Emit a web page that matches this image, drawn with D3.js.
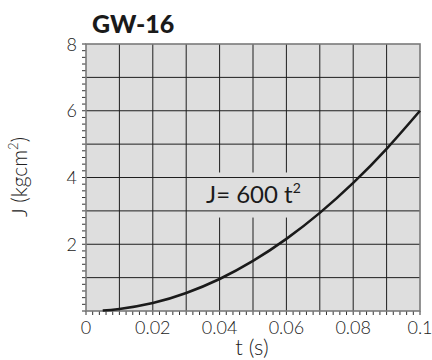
<!DOCTYPE html>
<html>
<head>
<meta charset="utf-8">
<script src="https://cdn.jsdelivr.net/npm/d3@7"></script>
<style>
  html, body { margin: 0; padding: 0; background: #ffffff; }
  svg { display: block; }
  text { font-family: Lato, "Open Sans", sans-serif; }
</style>
</head>
<body>
<script>
// Inertia curve J = 600 t^2 sampled at the marked times
const timeValues = [0.005, 0.01, 0.02, 0.03, 0.04, 0.05, 0.06, 0.07, 0.08, 0.09, 0.1];
const inertiaValues = [0.015, 0.06, 0.24, 0.54, 0.96, 1.5, 2.16, 2.94, 3.84, 4.86, 6.0];

const xTickLabels = [0, 0.02, 0.04, 0.06, 0.08, 0.1];
const yTickLabels = [2, 4, 6, 8];
const xGridValues = [0.01, 0.02, 0.03, 0.04, 0.05, 0.06, 0.07, 0.08, 0.09];
const yGridValues = [1, 2, 3, 4, 5, 6, 7];

const titleText = "GW-16";
const xTitle = "t (s)";
const yTitle = "J (kgcm";
const formulaText = "J= 600 t";

const W = 432, H = 360;
const plotLeft = 86, plotRight = 420, plotTop = 44, plotBottom = 311;

const svg = d3.select("body").append("svg")
  .attr("width", W).attr("height", H);

const x = d3.scaleLinear().domain([0, 0.1]).range([plotLeft, plotRight]);
const y = d3.scaleLinear().domain([0, 8]).range([plotBottom, plotTop]);

// plot background
svg.append("rect")
  .attr("x", plotLeft).attr("y", plotTop)
  .attr("width", plotRight - plotLeft).attr("height", plotBottom - plotTop)
  .attr("fill", "#dedede");

// vertical grid lines
svg.append("g").selectAll("line").data(xGridValues).join("line")
  .attr("x1", d => x(d)).attr("x2", d => x(d))
  .attr("y1", plotTop).attr("y2", plotBottom)
  .attr("stroke", "#1e1e1e").attr("stroke-width", 1);

// backing box behind the formula, hides the vertical grid
svg.append("rect")
  .attr("x", x(0.0325)).attr("y", y(4.15))
  .attr("width", x(0.0665) - x(0.0325)).attr("height", y(2.8) - y(4.15))
  .attr("fill", "#dedede");

// horizontal grid lines
svg.append("g").selectAll("line").data(yGridValues).join("line")
  .attr("x1", plotLeft).attr("x2", plotRight)
  .attr("y1", d => y(d)).attr("y2", d => y(d))
  .attr("stroke", "#1e1e1e").attr("stroke-width", 1);

// minor ticks on the axes
const xMinor = d3.range(0, 51).map(i => i * 0.002);
const yMinor = d3.range(0, 41).map(i => i * 0.2);

svg.append("g").selectAll("line").data(xMinor).join("line")
  .attr("x1", d => x(d)).attr("x2", d => x(d))
  .attr("y1", plotBottom).attr("y2", plotBottom + 4)
  .attr("stroke", "#333").attr("stroke-width", 1);

svg.append("g").selectAll("line").data(yMinor).join("line")
  .attr("x1", plotLeft - 4).attr("x2", plotLeft)
  .attr("y1", d => y(d)).attr("y2", d => y(d))
  .attr("stroke", "#333").attr("stroke-width", 1);

// frame
svg.append("rect")
  .attr("x", plotLeft).attr("y", plotTop)
  .attr("width", plotRight - plotLeft).attr("height", plotBottom - plotTop)
  .attr("fill", "none").attr("stroke", "#7a7a7a").attr("stroke-width", 1.6);

// curve
const line = d3.line()
  .x((d, i) => x(timeValues[i]))
  .y(d => y(d))
  .curve(d3.curveNatural);

svg.append("path")
  .datum(inertiaValues)
  .attr("d", line)
  .attr("fill", "none")
  .attr("stroke", "#1a1a1a")
  .attr("stroke-width", 2.6);

// tick labels
svg.append("g").selectAll("text").data(xTickLabels).join("text")
  .attr("x", d => x(d)).attr("y", 334)
  .attr("text-anchor", "middle")
  .attr("font-size", 18).attr("font-weight", 300)
  .attr("fill", "#222")
  .text(d => d);

svg.append("g").selectAll("text").data(yTickLabels).join("text")
  .attr("x", 77).attr("y", d => y(d) + 6.5)
  .attr("text-anchor", "end")
  .attr("font-size", 18).attr("font-weight", 300)
  .attr("fill", "#222")
  .text(d => d);

// title
svg.append("text")
  .attr("x", 92).attr("y", 33)
  .attr("font-size", 25).attr("font-weight", 900)
  .attr("fill", "#1a1a1a")
  .text(titleText);

// axis titles
svg.append("text")
  .attr("x", 252).attr("y", 355)
  .attr("text-anchor", "middle")
  .attr("font-size", 22).attr("font-weight", 300)
  .attr("fill", "#222")
  .text(xTitle);

const yt = svg.append("text")
  .attr("transform", "translate(27,177) rotate(-90)")
  .attr("text-anchor", "middle")
  .attr("font-size", 21).attr("font-weight", 300)
  .attr("fill", "#222");
yt.append("tspan").text(yTitle);
yt.append("tspan").attr("font-size", 13).attr("dy", -9).text("2");
yt.append("tspan").attr("dy", 9).text(")");

// formula label
const ft = svg.append("text")
  .attr("x", 206).attr("y", 203)
  .attr("font-size", 24)
  .attr("fill", "#1a1a1a");
ft.append("tspan").text(formulaText);
ft.append("tspan").attr("font-size", 14).attr("dy", -10).text("2");
</script>
</body>
</html>
